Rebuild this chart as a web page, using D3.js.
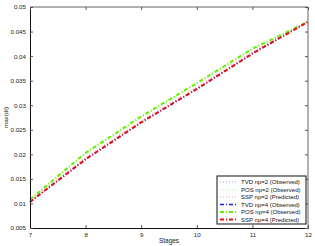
<!DOCTYPE html>
<html>
<head>
<meta charset="utf-8">
<script src="https://cdn.jsdelivr.net/npm/d3@7"></script>
<style>
  body { margin: 0; background: #fff; }
  text { font-family: "Liberation Sans", Arial, sans-serif; }
</style>
</head>
<body>
<div id="container"></div>
<script>
var width = 315,
    height = 246;

var stages = [7, 8, 9, 10, 11, 12];
var tvd_np2 = [0.0103, 0.0190, 0.0265, 0.0334, 0.0406, 0.0470];
var pos_np2 = [0.0107, 0.0201, 0.0275, 0.0343, 0.0413, 0.0470];
var ssp_np2 = [0.0105, 0.0195, 0.0269, 0.0338, 0.0409, 0.0470];
var tvd_np4 = [0.0103, 0.0190, 0.0265, 0.0333, 0.0405, 0.0470];
var pos_np4 = [0.0108, 0.0203, 0.0277, 0.0345, 0.0415, 0.0470];
var ssp_np4 = [0.0103, 0.0190, 0.0265, 0.0333, 0.0405, 0.0470];

var yTicks = [0.005, 0.01, 0.015, 0.02, 0.025, 0.03, 0.035, 0.04, 0.045, 0.05];
var xTicks = [7, 8, 9, 10, 11, 12];

var series = [
  {name: "TVD np=2 (Observed)", values: tvd_np2, color: "#9999ff", dash: "1,2", w: 1},
  {name: "POS np=2 (Observed)", values: pos_np2, color: "#aaff88", dash: "1,2", w: 1},
  {name: "SSP np=2 (Predicted)", values: ssp_np2, color: "#ff99aa", dash: "1,2", w: 1},
  {name: "TVD np=4 (Observed)", values: tvd_np4, color: "#2222ff", dash: "4,2,1,2", w: 1.5},
  {name: "POS np=4 (Observed)", values: pos_np4, color: "#66ee00", dash: "4,2,1,2", w: 2},
  {name: "SSP np=4 (Predicted)", values: ssp_np4, color: "#ee1111", dash: "4,2,1,2", w: 2}
];

var margin = {left: 30, right: 7, top: 7, bottom: 18};

var svg = d3.select("#container")
            .append("svg")
            .attr("width", width)
            .attr("height", height);

var x = d3.scaleLinear().domain([7, 12]).range([margin.left, width - margin.right]);
var y = d3.scaleLinear().domain([0.005, 0.05]).range([height - margin.bottom, margin.top]);

// box (top/right gray like the reference)
svg.append("line").attr("x1", x(7)).attr("x2", x(12)).attr("y1", y(0.05)).attr("y2", y(0.05))
   .attr("stroke", "#999").attr("stroke-width", 1.5);
svg.append("line").attr("x1", x(12)).attr("x2", x(12)).attr("y1", y(0.05)).attr("y2", y(0.005))
   .attr("stroke", "#999").attr("stroke-width", 1.5);

var line = d3.line()
    .x(function(d, i) { return x(stages[i]); })
    .y(function(d) { return y(d); });

svg.append("g").selectAll("path")
   .data(series)
   .enter().append("path")
   .attr("d", function(d) { return line(d.values); })
   .attr("fill", "none")
   .attr("stroke", function(d) { return d.color; })
   .attr("stroke-width", function(d) { return d.w; })
   .attr("stroke-dasharray", function(d) { return d.dash; });

// axes
var xAxis = d3.axisBottom(x).tickValues(xTicks).tickSize(-3).tickPadding(5).tickFormat(d3.format("d"));
var yAxis = d3.axisLeft(y).tickValues(yTicks).tickSize(-3).tickPadding(4).tickFormat(function(d) { return +d.toFixed(3); });

var gx = svg.append("g").attr("transform", "translate(0," + y(0.005) + ")").call(xAxis);
var gy = svg.append("g").attr("transform", "translate(" + x(7) + ",0)").call(yAxis);

// inner ticks on top/right
svg.append("g").attr("transform", "translate(0," + y(0.05) + ")")
   .call(d3.axisTop(x).tickValues(xTicks).tickSize(-3).tickFormat(""))
   .select(".domain").remove();
svg.append("g").attr("transform", "translate(" + x(12) + ",0)")
   .call(d3.axisRight(y).tickValues(yTicks).tickSize(-3).tickFormat(""))
   .select(".domain").remove();

svg.selectAll(".tick text").attr("font-size", 6.2).attr("fill", "#222").attr("font-family", "Liberation Sans, Arial, sans-serif");
gx.select(".domain").attr("stroke", "#111");
gy.select(".domain").attr("stroke", "#111");
svg.selectAll(".tick line").attr("stroke", "#555");

svg.append("text")
   .attr("x", (x(7) + x(12)) / 2)
   .attr("y", 243)
   .attr("text-anchor", "middle")
   .attr("font-size", 6.5)
   .attr("fill", "#222")
   .text("Stages");

svg.append("text")
   .attr("transform", "translate(8," + ((y(0.005) + y(0.05)) / 2) + ") rotate(-90)")
   .attr("text-anchor", "middle")
   .attr("font-size", 6.2)
   .attr("fill", "#222")
   .text("max(dt)");

// legend
var lg = svg.append("g").attr("transform", "translate(217,176)");
lg.append("rect").attr("width", 89).attr("height", 48)
  .attr("fill", "#fff").attr("stroke", "#111").attr("stroke-width", 1);

var items = lg.selectAll(".item")
  .data(series)
  .enter().append("g")
  .attr("transform", function(d, i) { return "translate(0," + (6 + i * 7.5) + ")"; });

items.append("line")
  .attr("x1", 3).attr("x2", 21)
  .attr("stroke", function(d) { return d.color; })
  .attr("stroke-width", function(d) { return d.w; })
  .attr("stroke-dasharray", function(d) { return d.dash; });

items.append("text")
  .attr("x", 24).attr("y", 2.3)
  .attr("font-size", 6)
  .attr("fill", "#111")
  .text(function(d) { return d.name; });
</script>
</body>
</html>
